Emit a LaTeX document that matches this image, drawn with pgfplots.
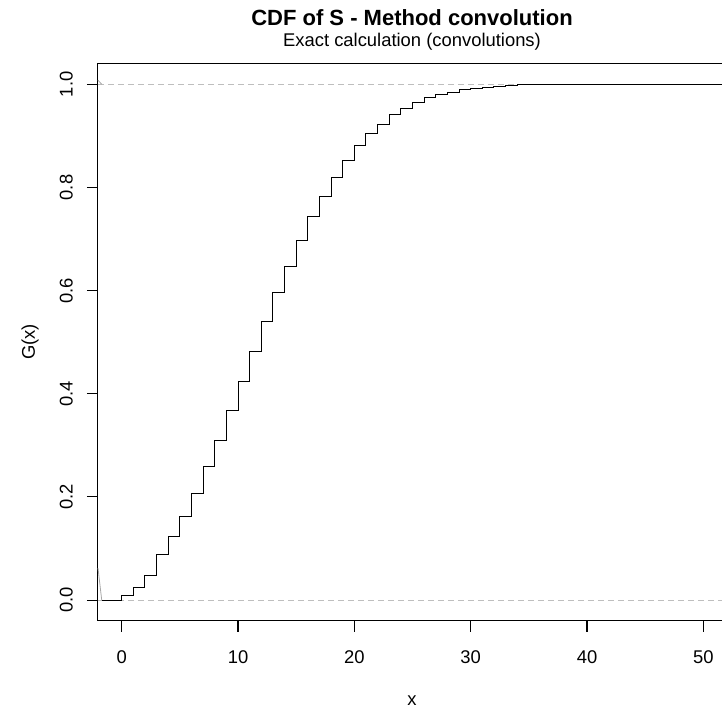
\documentclass[border=0pt]{standalone}
\usepackage{fontspec}
\setmainfont{Liberation Sans}
\usepackage{graphicx}
\usepackage{pgfplots}
\pgfplotsset{compat=1.18}
\definecolor{dgray}{RGB}{190,190,190}
\newcommand{\rl}[1]{\rotatebox{90}{#1}}
\begin{document}
\begin{tikzpicture}
\begin{axis}[
  scale only axis,
  width=628pt, height=557.4pt,
  xmin=-2.04, xmax=51.95, ymin=-0.04, ymax=1.0407,
  axis line style={line width=1pt, black},
  xtick={0,10,20,30,40,50}, xticklabels={0,10,20,30,40,50},
  ytick={0,0.2,0.4,0.6,0.8,1}, yticklabels={\rl{0.0},\rl{0.2},\rl{0.4},\rl{0.6},\rl{0.8},\rl{1.0}},
  tick align=outside, major tick length=11pt,
  tick pos=left,
  xtick style={line width=1.1pt, draw=black},
  ytick style={line width=1.1pt, draw=black},
  ticklabel style={font=\fontsize{18.4}{22}\selectfont, inner sep=0pt},
  xticklabel style={anchor=north, yshift=-19pt},
  yticklabel style={anchor=east, xshift=-14pt},
  clip=false,
]
\addplot[dgray, line width=1pt, dash pattern=on 6pt off 4pt] coordinates {(-2.04,0) (51.95,0)};
\addplot[dgray, line width=1pt, dash pattern=on 6pt off 4pt] coordinates {(-2.04,1) (51.95,1)};
\addplot[gray!70, line width=0.8pt] coordinates {(-2.04,0.062) (-1.72,0)};
\addplot[gray!70, line width=0.8pt] coordinates {(-2.04,1.0078) (-1.72,1.0)};
\addplot[black, line width=1pt, const plot] coordinates {
(-1.72,0) (0,0.0097) (1,0.0245) (2,0.048) (3,0.0879) (4,0.1227) (5,0.1615)
(6,0.2067) (7,0.2597) (8,0.310) (9,0.3669) (10,0.4244) (11,0.482) (12,0.5394)
(13,0.5956) (14,0.6473) (15,0.6971) (16,0.7429) (17,0.783) (18,0.8191)
(19,0.8527) (20,0.8805) (21,0.9037) (22,0.9225) (23,0.9405) (24,0.9535)
(25,0.9645) (26,0.9735) (27,0.9793) (28,0.985) (29,0.9897) (30,0.9916)
(31,0.9940) (32,0.9958) (33,0.9975) (34,0.9988) (35,1.0) (51.95,1.0)
};
\pgfplotsinvokeforeach{0,0.2,0.4,0.6,0.8,1}{
  \draw[line width=1.1pt, black] (axis cs:-2.04,#1) -- ++(-11pt,0pt);
}
\node[anchor=base, font=\fontsize{22}{26}\selectfont\bfseries] at (axis description cs:0.5,1) [yshift=37.3pt] {CDF of S - Method convolution};
\node[anchor=base, font=\fontsize{18.4}{22}\selectfont] at (axis description cs:0.5,1) [yshift=17pt] {Exact calculation (convolutions)};
\node[anchor=base, font=\fontsize{18.4}{22}\selectfont] at (axis description cs:0.5,0) [yshift=-85pt] {x};
\node[anchor=center, font=\fontsize{18.4}{22}\selectfont] at (axis description cs:0,0.5) [xshift=-68pt] {\rl{G(x)}};
\coordinate (bl) at (axis description cs:0,0);
\coordinate (tr) at (axis description cs:1,1);
\end{axis}
\pgfresetboundingbox
\path[use as bounding box] ([xshift=-98pt, yshift=-92.3pt]bl) rectangle ([xshift=-4pt, yshift=63.3pt]tr);
\end{tikzpicture}
\end{document}
